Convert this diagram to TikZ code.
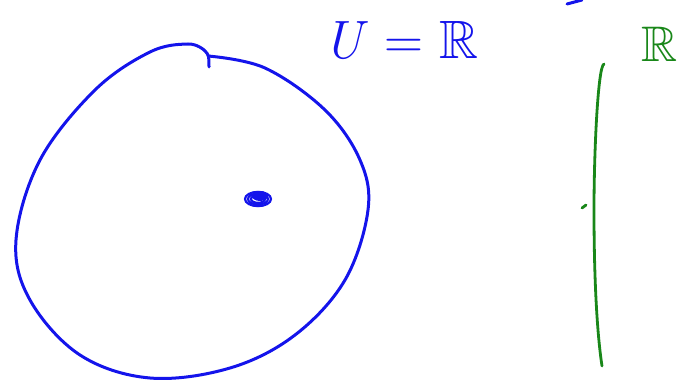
\documentclass[tikz,border=0pt]{standalone}
\usepackage{amssymb}
\usepackage{fontspec}
\definecolor{penblue}{RGB}{20,20,235}
\definecolor{pengreen}{RGB}{25,135,25}
\begin{document}
\begin{tikzpicture}[
    x=1pt, y=-1pt,
    blueink/.style={draw=penblue, line width=3pt, line cap=round, line join=round},
    greenink/.style={draw=pengreen, line width=2.8pt, line cap=round, line join=round},
    handtext/.style={inner sep=0pt, font=\fontsize{54}{54}\selectfont}
]
\useasboundingbox (0,0) rectangle (683,382);

% the set U
\draw[blueink] plot[smooth, tension=0.6] coordinates {
    (208,56) (265,68) (325,110) (360,160) (368,210) (345,280)
    (295,335) (230,368) (150,378) (80,355) (30,300) (16,240)
    (40,160) (95,90) (150,52) (188,44) (204,50)};
\draw[blueink] (204,50) .. controls (209,55) .. (209,67);

% the point
\foreach \r in {13,10,7}
  \draw[penblue, line width=2.2pt] (258,199) ellipse ({\r} and {0.55*\r});
\fill[penblue] (260,196) ellipse (8 and 5);

% label
\node[handtext, text=penblue] (ueq) at (401,40) {\textit{U} = $\mathbb{R}$};
\draw[blueink] (567,4) -- (582,0);

% the real line
\node[handtext, text=pengreen, anchor=west, font=\fontsize{50}{50}\selectfont] (rlabel) at (641,44) {$\mathbb{R}$};
\draw[greenink] (604,64) .. controls (598,66) and (594,150) .. (594,210)
    .. controls (594,290) and (598,340) .. (602,366);
\draw[greenink] (582,208) -- (586,205);
\end{tikzpicture}
\end{document}
